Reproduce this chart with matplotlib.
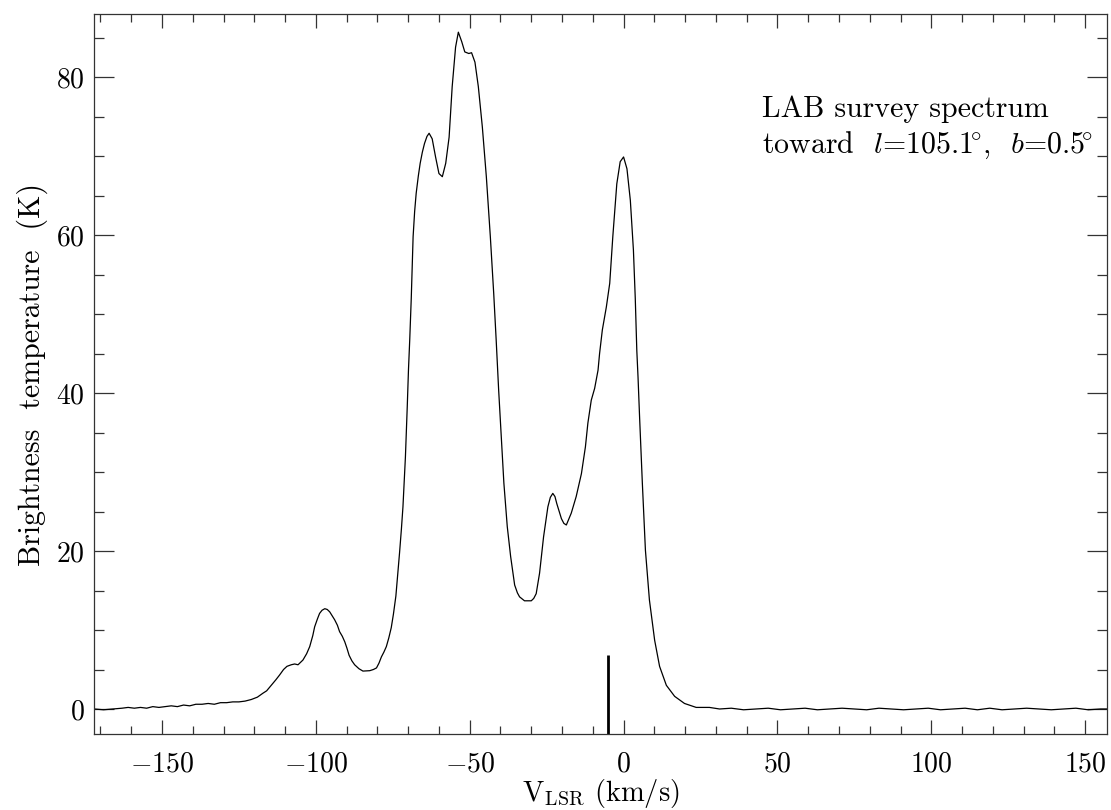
import numpy as np
import matplotlib
matplotlib.use('Agg')
import matplotlib.pyplot as plt
from matplotlib.ticker import MultipleLocator

plt.rcParams['font.family'] = ['cmr10', 'DejaVu Serif']
plt.rcParams['mathtext.fontset'] = 'cm'
plt.rcParams['axes.formatter.use_mathtext'] = True

# LAB HI spectrum (km/s, K)
velocity = [
    -172, -169, -166, -163, -161, -159, -157, -155, -153, -151, -149, -147,
    -145, -143, -141, -139, -137, -135, -133, -131, -129, -127, -125, -123,
    -121, -119, -117.2, -116, -114.5, -113, -111.8, -110.5, -109.4, -108,
    -106.9, -105.8, -104.2, -103, -102, -101, -100.4, -99.5, -98.8, -98,
    -97.1, -96.3, -95.5, -94.7, -93.9, -93, -92.3, -91.4, -90.6, -89.9,
    -89.2, -88.3, -87.4, -86, -84.7, -82.5, -81.3, -80.3, -79.5, -78.7,
    -77.9, -77.1, -76.3, -75.5, -74.8, -74.0, -73.3, -72.8, -72.2, -71.7,
    -71.3, -70.9, -70.6, -70.3, -69.9, -69.5, -69.0, -68.4, -67.9, -67.4,
    -66.7, -66.1, -65.4, -64.7, -63.9, -63.2, -62.2, -61.1, -60.0, -58.9,
    -57.8, -56.7, -55.7, -54.6, -53.7, -52.6, -51.6, -50.3, -49.4, -48.3,
    -47.2, -45.9, -44.6, -43.3, -42.2, -41.4, -40.6, -39.7, -38.9, -37.8,
    -36.7, -35.4, -34.5, -33.8, -32.2, -30.0, -29.2, -28.4, -27.3, -26.0,
    -24.6, -23.8, -23.0, -22.3, -21.7, -20.2, -19.4, -18.6, -17.0, -15.4,
    -13.7, -12.4, -11.6, -10.5, -9.4, -8.3, -7.8, -6.9, -5.6, -4.5, -3.5,
    -2.2, -1.1, 0.0, 1.1, 2.2, 3.2, 3.8, 4.3, 4.7, 5.2, 6.1, 7.1, 8.4,
    10.1, 11.7, 13.9, 16.6, 19.8, 23.6, 27.9, 31.2, 35, 39, 43, 47, 51,
    55, 59, 63, 67, 71, 75, 79, 83, 87, 91, 95, 99, 103, 107, 111, 115,
    119, 123, 127, 131, 135, 139, 143, 147, 151, 155, 157,
]
temperature = [
    0.0, -0.1, 0.0, 0.1, 0.2, 0.1, 0.2, 0.1, 0.3, 0.2, 0.3, 0.4,
    0.3, 0.5, 0.4, 0.6, 0.6, 0.7, 0.6, 0.8, 0.8, 0.9, 0.9, 1.0,
    1.2, 1.5, 2.0, 2.3, 3.0, 3.7, 4.3, 5.0, 5.4, 5.6,
    5.7, 5.6, 6.2, 7.0, 7.9, 9.3, 10.4, 11.4, 12.1, 12.5,
    12.7, 12.6, 12.3, 11.8, 11.3, 10.6, 9.8, 9.2, 8.5, 7.7,
    6.8, 6.1, 5.6, 5.1, 4.8, 4.85, 5.0, 5.2, 5.8, 6.6,
    7.2, 7.9, 9.0, 10.3, 12.0, 14.3, 17.5, 19.8, 22.8, 25.6,
    28.8, 31.9, 35.0, 38.3, 43.0, 46.7, 52.0, 59.8, 63.0, 65.3,
    67.5, 69.1, 70.5, 71.6, 72.5, 72.9, 72.2, 69.9, 67.8, 67.4,
    69.1, 72.4, 78.8, 83.8, 85.7, 84.5, 83.2, 83.0, 83.1, 81.9,
    78.8, 73.7, 67.4, 59.8, 52.6, 46.7, 40.4, 34.1, 28.6, 23.1,
    19.3, 15.7, 14.7, 14.2, 13.7, 13.7, 14.0, 14.6, 17.2, 21.8,
    25.6, 26.8, 27.3, 26.9, 26.0, 24.1, 23.5, 23.3, 24.8, 26.9,
    29.8, 33.2, 36.2, 39.1, 40.6, 42.9, 45.0, 48.0, 50.9, 53.9, 59.8,
    66.5, 69.3, 69.9, 68.4, 64.4, 58.1, 52.0, 45.4, 42.0, 37.0, 28.6, 20.1, 13.8,
    8.7, 5.4, 3.0, 1.6, 0.7, 0.2, 0.2, 0.0, 0.1, -0.1, 0.0, 0.1, -0.1,
    0.0, 0.1, -0.1, 0.0, 0.1, 0.0, -0.1, 0.1, 0.0, -0.1, 0.0, 0.1, -0.1, 0.0, 0.1, -0.1,
    0.1, -0.1, 0.0, 0.1, 0.0, -0.1, 0.0, 0.1, -0.1, 0.0, 0.0,
]

marker_v = -5.0
marker_top = 6.8

xmin, xmax = -172, 157
ymin, ymax = -3.2, 88

fig = plt.figure(figsize=(11.11, 8.10), dpi=100)
ax = fig.add_axes([0.0849, 0.0935, 0.9112, 0.8892])

ax.plot(velocity, temperature, color='black', lw=0.9)
ax.vlines(marker_v, ymin, marker_top, color='black', lw=2.0)

ax.set_xlim(xmin, xmax)
ax.set_ylim(ymin, ymax)

ax.xaxis.set_major_locator(MultipleLocator(50))
ax.xaxis.set_minor_locator(MultipleLocator(10))
ax.yaxis.set_major_locator(MultipleLocator(20))
ax.yaxis.set_minor_locator(MultipleLocator(5))

ax.tick_params(which='both', direction='in', top=True, right=True,
               colors='#333333', labelcolor='black', labelsize=20, width=0.9)
ax.tick_params(axis='x', which='major', length=10, pad=12)
ax.tick_params(axis='x', which='minor', length=5.5)
ax.tick_params(axis='y', which='major', length=14.5, pad=7)
ax.tick_params(axis='y', which='minor', length=7)
for sp in ax.spines.values():
    sp.set_color('#333333')
    sp.set_linewidth(0.9)

ax.set_xlabel(r'V$_{\rm LSR}$ (km/s)', fontsize=20.5, labelpad=0)
ax.set_ylabel('Brightness  temperature  (K)', fontsize=21.5, labelpad=6)

ax.text(0.660, 0.857, 'LAB survey spectrum', transform=ax.transAxes,
        fontsize=21.5, va='baseline', ha='left')
ax.text(0.660, 0.807, r'toward  $l$=105.1$\!^{\circ}$,  $b$=0.5$\!^{\circ}$',
        transform=ax.transAxes, fontsize=21.5, va='baseline', ha='left')

plt.savefig('out.png', dpi=100)
